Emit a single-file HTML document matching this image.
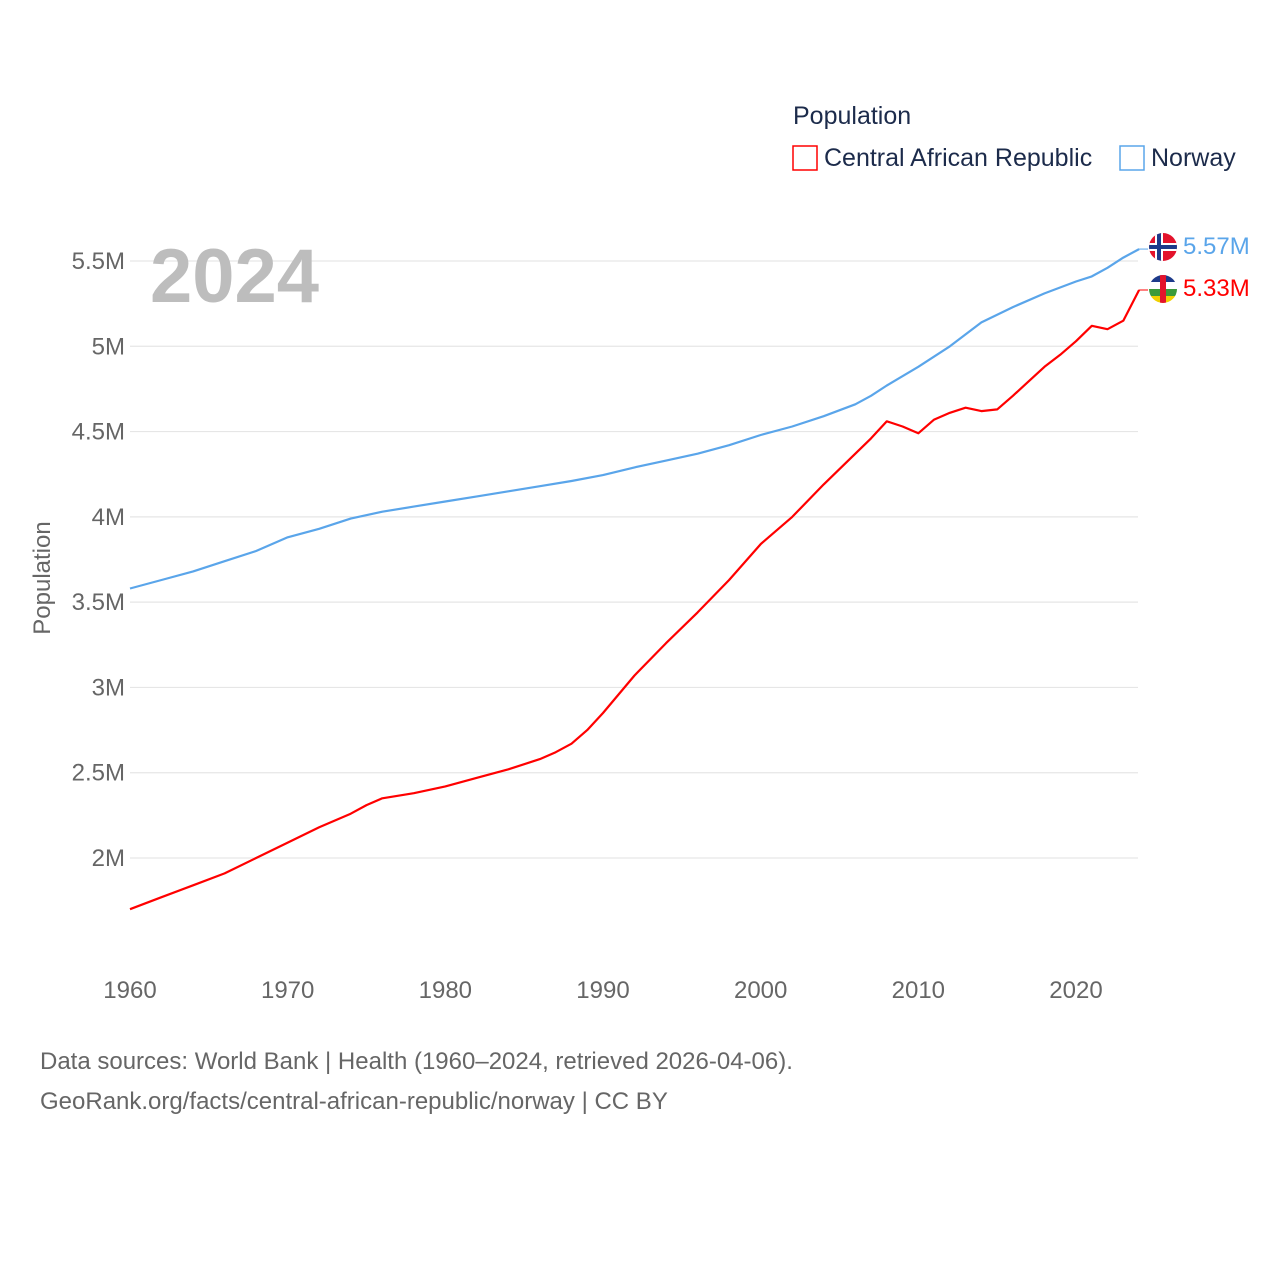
<!DOCTYPE html>
<html><head><meta charset="utf-8"><style>
body{margin:0;background:#fff;}
svg{display:block;font-family:"Liberation Sans",sans-serif;}
</style></head><body>
<svg id="chart" width="1280" height="1280" viewBox="0 0 1280 1280">
<defs>
<clipPath id="c1"><circle cx="1163" cy="247" r="14"/></clipPath>
<clipPath id="c2"><circle cx="1163" cy="289" r="14"/></clipPath>
</defs>
<g id="grid"></g>
<g id="yt"></g>
<g id="xt"></g>
<text x="150" y="302" font-size="76" font-weight="bold" fill="#bdbdbd">2024</text>
<text transform="translate(50,578) rotate(-90)" text-anchor="middle" font-size="24" fill="#666">Population</text>
<g id="lines"></g>
<text x="793" y="124" font-size="25" fill="#1c2b4b">Population</text>
<g>
<rect x="793" y="146" width="24" height="24" fill="none" stroke="#ff0000" stroke-width="1.5"/>
<text x="824" y="166" font-size="25" fill="#1c2b4b">Central African Republic</text></g>
<g>
<rect x="1120" y="146" width="24" height="24" fill="none" stroke="#5aa5ea" stroke-width="1.5"/>
<text x="1151" y="166" font-size="25" fill="#1c2b4b">Norway</text></g>
<g clip-path="url(#c1)">
<rect x="1149" y="233" width="28" height="28" fill="#e3132c"/>
<rect x="1149" y="243" width="28" height="8" fill="#fff"/><rect x="1155" y="233" width="8" height="28" fill="#fff"/>
<rect x="1149" y="245" width="28" height="4" fill="#1d3a8a"/><rect x="1157" y="233" width="4" height="28" fill="#1d3a8a"/>
</g>
<g clip-path="url(#c2)">
<rect x="1149" y="275" width="28" height="7" fill="#1d3a8a"/><rect x="1149" y="282" width="28" height="7" fill="#fff"/>
<rect x="1149" y="289" width="28" height="7" fill="#3a9a3a"/><rect x="1149" y="296" width="28" height="7" fill="#f0d000"/>
<rect x="1160" y="275" width="6" height="28" fill="#e3132c"/>
</g>
<text x="1183" y="254" font-size="24" fill="#5aa5ea">5.57M</text>
<text x="1183" y="296" font-size="24" fill="#ff0000">5.33M</text>
<text x="40" y="1069" font-size="24" fill="#666">Data sources: World Bank | Health (1960–2024, retrieved 2026-04-06).</text>
<text x="40" y="1109" font-size="24" fill="#666">GeoRank.org/facts/central-african-republic/norway | CC BY</text>
</svg>
<script>
const yTicks=[2,2.5,3,3.5,4,4.5,5,5.5];
const yTickLabels=["2M","2.5M","3M","3.5M","4M","4.5M","5M","5.5M"];
const xTicks=[1960,1970,1980,1990,2000,2010,2020];
const norYears=[1960,1962,1964,1966,1968,1970,1972,1974,1976,1978,1980,1982,1984,1986,1988,1990,1992,1994,1996,1998,2000,2002,2004,2006,2007,2008,2010,2012,2014,2016,2018,2020,2021,2022,2023,2024];
const norValues=[3.58,3.63,3.68,3.74,3.80,3.88,3.93,3.99,4.03,4.06,4.09,4.12,4.15,4.18,4.21,4.245,4.29,4.33,4.37,4.42,4.48,4.53,4.59,4.66,4.71,4.77,4.88,5.00,5.14,5.23,5.31,5.38,5.41,5.46,5.52,5.57];
const carYears=[1960,1962,1964,1966,1968,1970,1972,1974,1975,1976,1978,1980,1982,1984,1986,1987,1988,1989,1990,1992,1994,1996,1998,2000,2002,2004,2006,2007,2008,2009,2010,2011,2012,2013,2014,2015,2016,2018,2019,2020,2021,2022,2023,2024];
const carValues=[1.70,1.77,1.84,1.91,2.00,2.09,2.18,2.26,2.31,2.35,2.38,2.42,2.47,2.52,2.58,2.62,2.67,2.75,2.85,3.07,3.26,3.44,3.63,3.84,4.00,4.19,4.37,4.46,4.56,4.53,4.49,4.57,4.61,4.64,4.62,4.63,4.71,4.88,4.95,5.03,5.12,5.10,5.15,5.33];
const X=y=>130+(y-1960)*(1076-130)/60;
const Y=v=>858-(v-2)*(858-261)/3.5;
const NS='http://www.w3.org/2000/svg';
function mk(t,a,p){const e=document.createElementNS(NS,t);for(const k in a)e.setAttribute(k,a[k]);p.appendChild(e);return e;}
const grid=document.getElementById('grid'),yt=document.getElementById('yt'),xt=document.getElementById('xt'),lines=document.getElementById('lines');
yTicks.forEach((v,i)=>{
 const l=mk('line',{x1:130,x2:1138,y1:Y(v),y2:Y(v),stroke:'#e6e6e6','stroke-width':1.2},grid);
 
 
 const t=mk('text',{x:125,y:Y(v)+8,'text-anchor':'end','font-size':24,fill:'#666'},yt);
 t.textContent=yTickLabels[i];
 
 
});
xTicks.forEach(y=>{
 const t=mk('text',{x:X(y),y:998,'text-anchor':'middle','font-size':24,fill:'#666'},xt);
 t.textContent=y;
 
 
});
function line(ys,vs,c,n){
 const p=mk('path',{d:ys.map((y,i)=>(i?'L':'M')+X(y).toFixed(1)+','+Y(vs[i]).toFixed(1)).join(''),fill:'none',stroke:c,'stroke-width':2.2,'stroke-linejoin':'round'},lines);
 
 
 const e=mk('line',{x1:X(ys[ys.length-1]),x2:1148,y1:Y(vs[vs.length-1]),y2:Y(vs[vs.length-1]),stroke:c,'stroke-width':1},lines);
 
 
}
line(norYears,norValues,'#5aa5ea','norway-line');
line(carYears,carValues,'#ff0000','car-line');
</script>
</body></html>
